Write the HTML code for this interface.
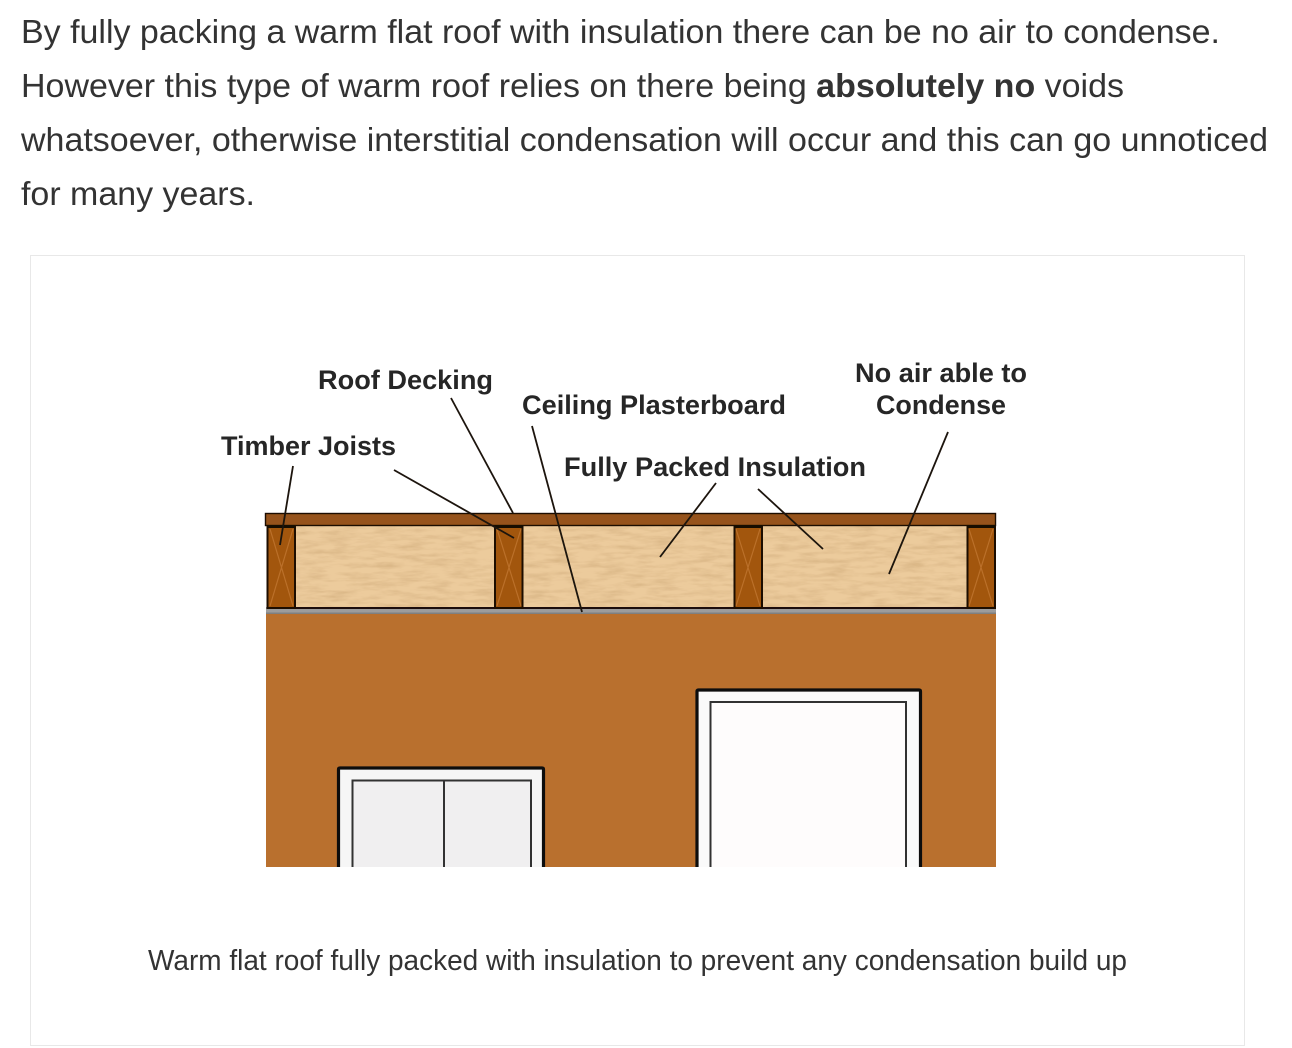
<!DOCTYPE html>
<html><head><meta charset="utf-8"><style>
html,body{margin:0;padding:0;background:#fff;width:1292px;height:1048px;overflow:hidden}
svg{display:block}
.p{font:33px "Liberation Sans",sans-serif;fill:#333}
.l{font:bold 27px "Liberation Sans",sans-serif;fill:#262626}
</style></head><body>
<svg width="1292" height="1048" viewBox="0 0 1292 1048" xmlns="http://www.w3.org/2000/svg">
<defs>
<filter id="tex" x="0" y="0" width="100%" height="100%">
<feTurbulence type="fractalNoise" baseFrequency="0.04 0.22" numOctaves="4" seed="4"/>
<feColorMatrix type="matrix" values="0 0 0 0 0.70  0 0 0 0 0.47  0 0 0 0 0.24  1.9 0 0 0 -0.72"/>
<feComposite in2="SourceGraphic" operator="over"/>
</filter>
<filter id="soft"><feGaussianBlur stdDeviation="0.35"/></filter>
</defs>
<text class="p" x="21" y="43" textLength="1199" lengthAdjust="spacingAndGlyphs">By fully packing a warm flat roof with insulation there can be no air to condense.</text>
<text class="p" x="21" y="97" textLength="1103" lengthAdjust="spacingAndGlyphs">However this type of warm roof relies on there being <tspan font-weight="bold">absolutely no</tspan> voids</text>
<text class="p" x="21" y="151" textLength="1247" lengthAdjust="spacingAndGlyphs">whatsoever, otherwise interstitial condensation will occur and this can go unnoticed</text>
<text class="p" x="21" y="205" textLength="234" lengthAdjust="spacingAndGlyphs">for many years.</text>
<rect x="30.5" y="255.5" width="1214" height="790" fill="#fff" stroke="#e8e8e8"/>
<g filter="url(#soft)">
<rect x="266" y="612" width="730" height="255" fill="#b9702f"/>
<rect x="295" y="525" width="673" height="83" fill="#eccb9c" filter="url(#tex)"/>
<rect x="266" y="607" width="730" height="7" fill="#9c9c9c"/>
<rect x="266" y="612.500" width="730" height="1.500" fill="#7f7f7f"/>
<rect x="267" y="607" width="728" height="2" fill="#1c1008"/>
<rect x="265.500" y="513.500" width="730" height="12" fill="#96531a" stroke="#1e0f05" stroke-width="1.400"/>
<g fill="#a2570f" stroke="#1e0f05" stroke-width="2">
<rect x="267.500" y="526" width="27.500" height="82"/>
<rect x="495" y="526" width="27.500" height="82"/>
<rect x="734.500" y="526" width="27.500" height="82"/>
<rect x="967.500" y="526" width="27.500" height="82"/>
</g>
<g fill="#140a03">
<rect x="267" y="525" width="28" height="3"/><rect x="495" y="525" width="28" height="3"/><rect x="734" y="525" width="28" height="3"/><rect x="967" y="525" width="28" height="3"/>
</g>
<g stroke="#bb7029" stroke-width="1.200" fill="none">
<path d="M270 529L293 606M293 529L270 606M497 529L521 606M521 529L497 606M736 529L760 606M760 529L736 606M969 529L993 606M993 529L969 606"/>
</g>
<rect x="338" y="767" width="206" height="100" fill="#f6f6f6"/>
<path d="M338.500 867V769.500Q338.500 768 340 768H542Q543.500 768 543.500 769.500V867" fill="none" stroke="#0c0808" stroke-width="3.200"/>
<rect x="352" y="780" width="179" height="87" fill="#f0eff0"/>
<path d="M352.500 867V780.500H531V867M444 780.500V867" fill="none" stroke="#333" stroke-width="2"/>
<rect x="696" y="689" width="225" height="178" fill="#fafafa"/>
<path d="M697 867V691.500Q697 690 698.500 690H919Q920.500 690 920.500 691.500V867" fill="none" stroke="#0c0808" stroke-width="3.200"/>
<rect x="710" y="702" width="196" height="165" fill="#fefcfc"/>
<path d="M710.500 867V702H906V867" fill="none" stroke="#333" stroke-width="2"/>
<g stroke="#1c120c" stroke-width="1.800" fill="none">
<path d="M293 466L280 545"/>
<path d="M394 470L514 538"/>
<path d="M451 398L513 513"/>
<path d="M532 426L582 612"/>
<path d="M716 483L660 557"/>
<path d="M758 489L823 549"/>
<path d="M948 432L889 574"/>
</g>
</g>
<g class="l">
<text class="l" x="318" y="389" textLength="175" lengthAdjust="spacingAndGlyphs">Roof Decking</text>
<text class="l" x="522" y="414" textLength="264" lengthAdjust="spacingAndGlyphs">Ceiling Plasterboard</text>
<text class="l" x="855" y="382" textLength="172" lengthAdjust="spacingAndGlyphs">No air able to</text>
<text class="l" x="876" y="414" textLength="130" lengthAdjust="spacingAndGlyphs">Condense</text>
<text class="l" x="221" y="455" textLength="175" lengthAdjust="spacingAndGlyphs">Timber Joists</text>
<text class="l" x="564" y="476" textLength="302" lengthAdjust="spacingAndGlyphs">Fully Packed Insulation</text>
</g>
<text x="148" y="970" textLength="979" lengthAdjust="spacingAndGlyphs" style="font:29px 'Liberation Sans',sans-serif;fill:#333">Warm flat roof fully packed with insulation to prevent any condensation build up</text>
</svg>
</body></html>
